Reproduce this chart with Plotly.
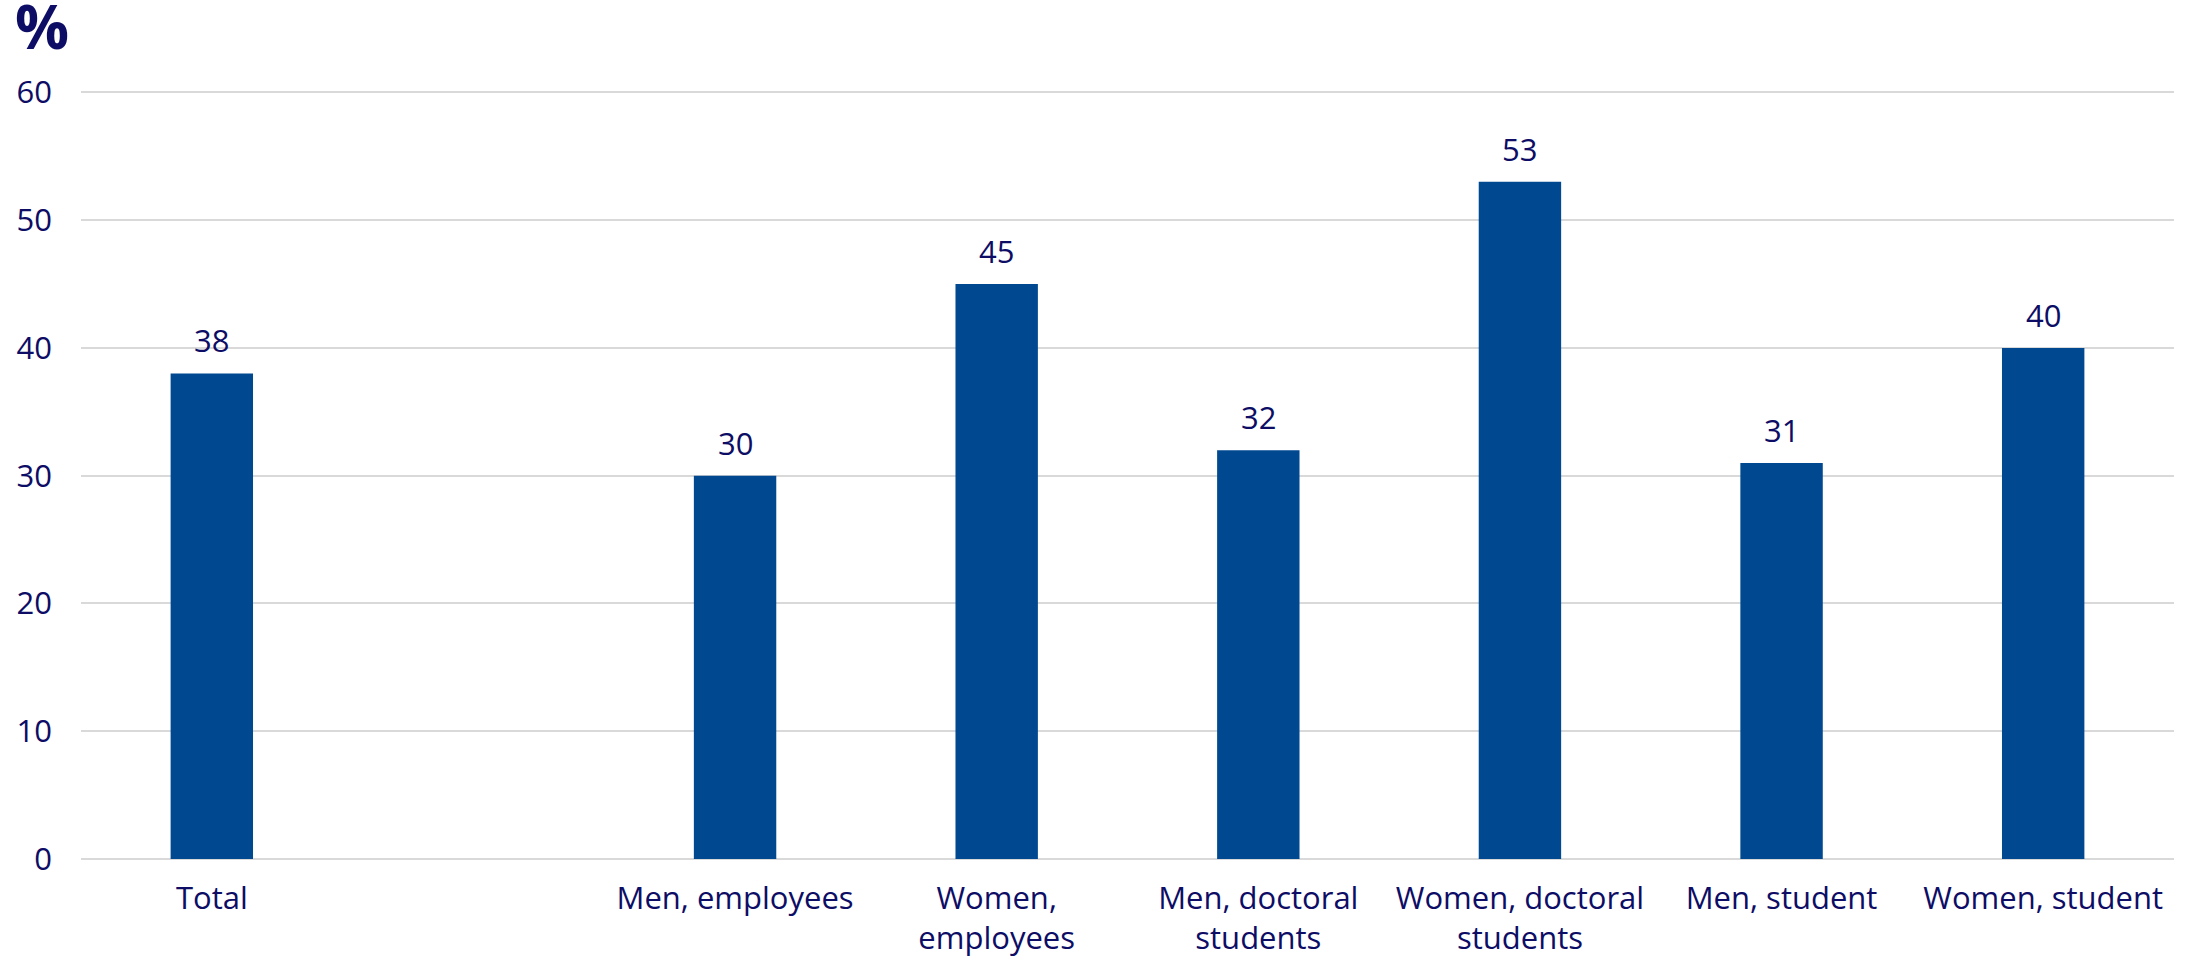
import plotly.graph_objects as go

categories = ["Total", " ", "Men, employees", "Women,<br>employees", "Men, doctoral<br>students",
              "Women, doctoral<br>students", "Men, student", "Women, student"]
values = [38, None, 30, 45, 32, 53, 31, 40]
y_ticks = [0, 10, 20, 30, 40, 50, 60]

TEXT = "#0d0d66"
BAR = "#004990"
FONT = "Open Sans"

fig = go.Figure(go.Bar(
    x=categories, y=values,
    marker=dict(color=BAR, line=dict(width=0)),
    width=0.315,
    cliponaxis=False,
))

annotations = [dict(text=str(v), x=c, y=v, xref="x", yref="y", yanchor="bottom",
                    yshift=10, showarrow=False,
                    font=dict(family=FONT, size=31, color=TEXT))
               for c, v in zip(categories, values) if v is not None]
annotations.append(dict(text="<b>%</b>", xref="paper", yref="paper", x=-68/2093, y=1,
                        xanchor="left", yanchor="bottom", yshift=17, showarrow=False,
                        font=dict(family=FONT, size=60, color=TEXT)))

fig.update_layout(
    width=2188, height=956,
    margin=dict(l=81, r=14, t=86, b=97),
    plot_bgcolor="white", paper_bgcolor="white",
    showlegend=False,
    font=dict(family=FONT, size=31, color=TEXT),
    xaxis=dict(type="category", showgrid=False, showline=False, ticks="", automargin=False,
               tickfont=dict(family=FONT, size=31, color=TEXT), ticklabelstandoff=18),
    yaxis=dict(range=[0, 60.5], tickvals=y_ticks, showgrid=True, gridcolor="#d9d9d9", gridwidth=2,
               zeroline=True, zerolinecolor="#d9d9d9", zerolinewidth=2, showline=False, ticks="",
               automargin=False,
               tickfont=dict(family=FONT, size=31, color=TEXT), ticklabelstandoff=28),
    annotations=annotations,
)

fig.write_html("out.html", config={"displayModeBar": False},
               post_script="document.body.style.margin='0';document.body.style.overflow='hidden';")
